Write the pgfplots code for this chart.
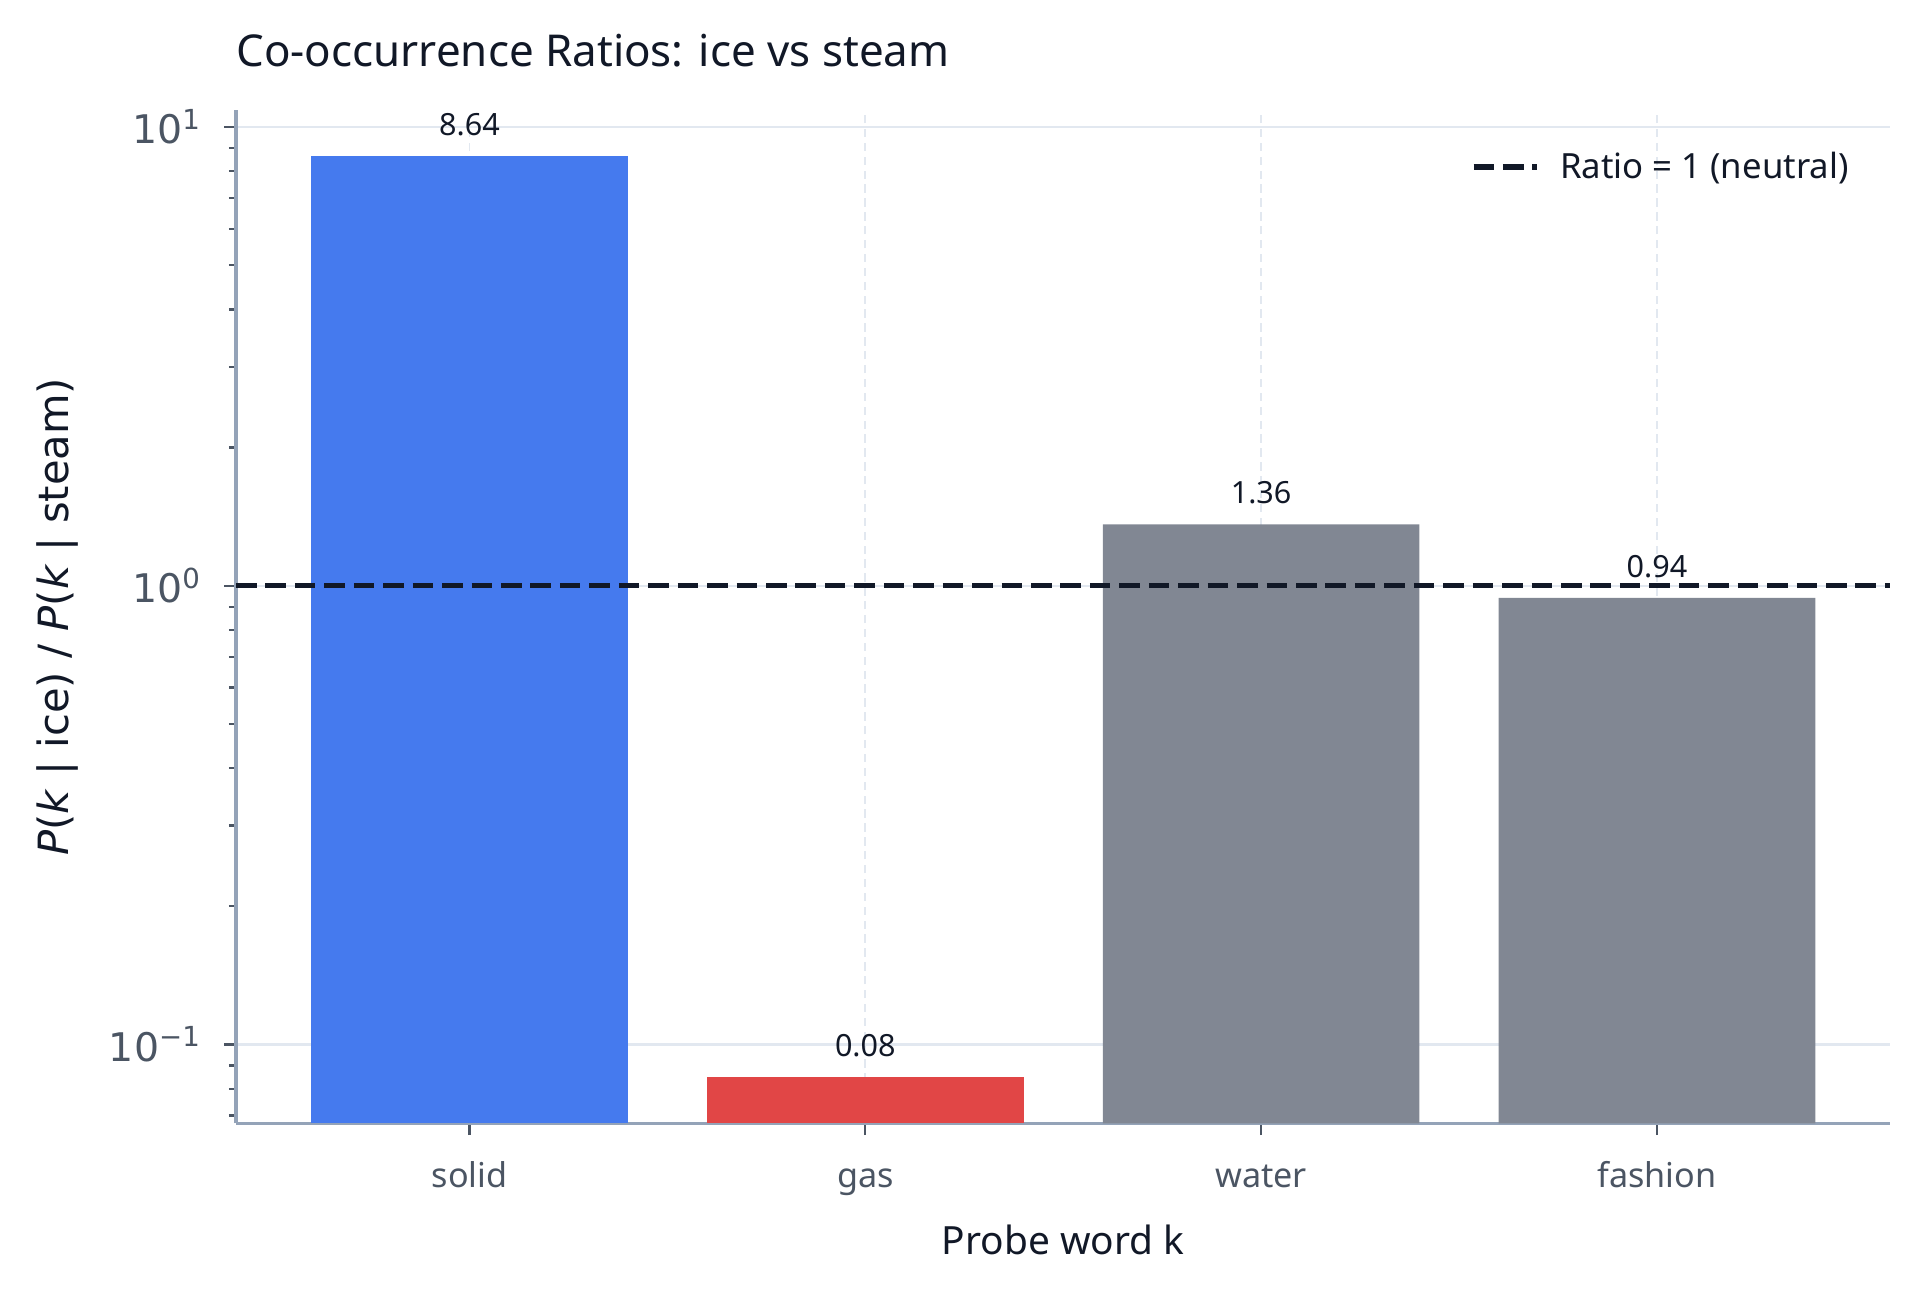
\documentclass[border=0pt]{standalone}
\usepackage{fontspec}
\setmainfont{Noto Sans}
\newfontfamily\dejavu{DejaVu Sans}
\usepackage{pgfplots}
\pgfplotsset{compat=1.18}

\definecolor{barblue}{HTML}{457AEE}
\definecolor{barred}{HTML}{E14646}
\definecolor{bargray}{HTML}{818793}
\definecolor{spine}{HTML}{94A3B8}
\definecolor{tickc}{HTML}{4B5563}
\definecolor{gridc}{HTML}{E2E8F0}
\definecolor{ink}{HTML}{111827}

\begin{document}
\begin{tikzpicture}
\useasboundingbox (-84.96pt,-60.73pt) rectangle (606.24pt,404.39pt);
\begin{axis}[
    at={(0pt,0pt)}, anchor=south west,
    scale only axis,
    width=595.6pt, height=364.8pt,
    ymode=log, log origin y=infty,
    xmin=-0.59, xmax=3.59,
    ymin=0.0673, ymax=10.89,
    xtick={0,1,2,3},
    xticklabels={solid,gas,water,fashion},
    ytick={0.1,1,10},
    yticklabels={10\textsuperscript{−1},10\textsuperscript{0},10\textsuperscript{1}},
    minor ytick={0.07,0.08,0.09,0.2,0.3,0.4,0.5,0.6,0.7,0.8,0.9,2,3,4,5,6,7,8,9},
    axis x line*=bottom, axis y line*=left,
    axis line style={draw=spine, line width=1.1pt, -},
    tick align=outside,
    major tick length=4.3pt, minor tick length=2.6pt,
    tick style={color=tickc, line width=0.8pt},
    xmajorgrids, ymajorgrids,
    major x grid style={color=gridc, line width=0.6pt, dash pattern=on 3pt off 2pt},
    major y grid style={color=gridc, line width=0.8pt},
    xticklabel style={font=\fontsize{12.3}{15}\selectfont, text=tickc,
        anchor=base, inner sep=0pt, yshift=-19pt},
    yticklabel style={font=\dejavu\fontsize{14.2}{17}\selectfont, text=tickc,
        anchor=east, inner sep=0pt, xshift=-8pt},
    title={Co-occurrence Ratios: ice vs steam},
    title style={at={(axis description cs:0,1)}, anchor=base west, yshift=9.8pt,
        font=\fontsize{15.8}{19}\selectfont, text=ink, inner sep=0pt},
    xlabel={Probe word k},
    xlabel style={at={(axis description cs:0.5,-0.1299)}, anchor=base,
        font=\fontsize{14}{17}\selectfont, text=ink, inner sep=0pt},
    ylabel={\textit{P}(\textit{k} | ice) / \textit{P}(\textit{k} | steam)},
    ylabel style={at={(axis description cs:-0.108,0.5)}, anchor=center,
        font=\dejavu\fontsize{15}{18}\selectfont, text=ink, inner sep=0pt},
    legend style={at={(axis description cs:0.975,0.9437)}, anchor=east,
        draw=none, fill=none, inner sep=0pt,
        nodes={inner sep=0pt, text=ink},
        font=\fontsize{12.5}{15}\selectfont},
    legend image code/.code={
        \draw[#1] (0pt,0pt) -- (22.7pt,0pt);
        \path (30.2pt,0pt);
    },
    every node near coord/.append style={anchor=base, yshift=7.4pt, inner sep=0pt,
        font=\fontsize{11}{13}\selectfont, text=ink},
]

% bars, one plot per colour
\addplot[ybar, bar width=0.8, bar shift=0pt, fill=barblue, draw=none, forget plot,
    nodes near coords, point meta=explicit symbolic]
    coordinates {(0,8.64) [8.64]};
\addplot[ybar, bar width=0.8, bar shift=0pt, fill=barred, draw=none, forget plot,
    nodes near coords, point meta=explicit symbolic]
    coordinates {(1,0.0848) [0.08]};
\addplot[ybar, bar width=0.8, bar shift=0pt, fill=bargray, draw=none, forget plot,
    nodes near coords, point meta=explicit symbolic]
    coordinates {(2,1.36) [1.36] (3,0.94) [0.94]};

% neutral ratio
\addplot[color=ink, line width=2pt, dash pattern=on 7.4pt off 3.2pt]
    coordinates {(-0.59,1) (3.59,1)};
\addlegendentry{Ratio = 1 (neutral)}

\end{axis}
\end{tikzpicture}
\end{document}
